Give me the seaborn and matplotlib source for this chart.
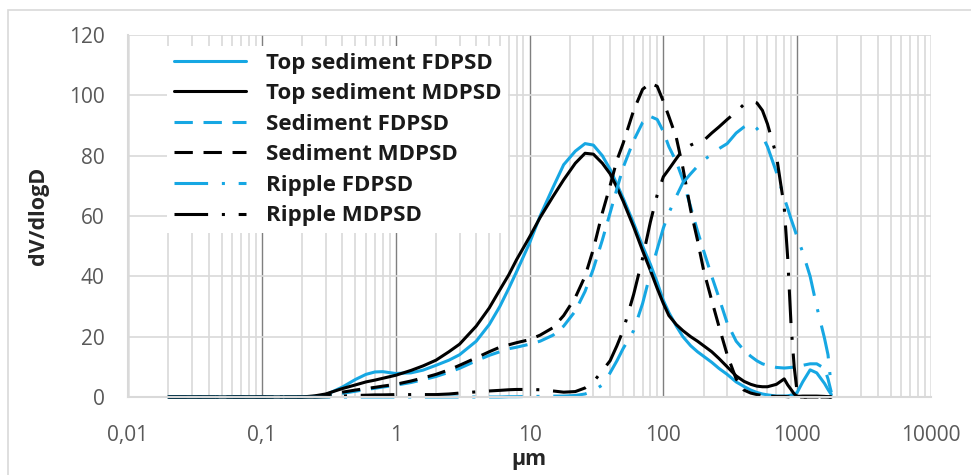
import numpy as np
import matplotlib
matplotlib.use("Agg")
import matplotlib.pyplot as plt
import seaborn as sns
from matplotlib.ticker import LogLocator, NullFormatter
from matplotlib.patches import Rectangle

# particle size grid (µm)
x_um = [0.02, 0.05, 0.1, 0.2, 0.25, 0.3, 0.4, 0.5, 0.6, 0.7,
        0.8, 1, 1.3, 1.6, 2, 2.5, 3, 4, 5, 6,
        7, 8, 10, 12, 15, 18, 22, 26, 30, 35,
        40, 45, 50, 60, 70, 80, 90, 100, 110, 125,
        140, 160, 180, 200, 230, 260, 300, 350, 400, 450,
        500, 550, 600, 700, 800, 850, 900, 950, 1000, 1100,
        1250, 1400, 1600, 1700, 1800]

top_fd = [0, 0, 0, 0, 0.2, 0.7, 3.3, 5.8, 7.5, 8.3,
          8.4, 7.8, 8.0, 8.9, 10.5, 12.2, 14, 18.5, 24, 30,
          36, 41.5, 51, 60, 69.5, 77, 81.5, 84, 83.5, 80,
          75.5, 70.5, 66, 57.6, 50, 44, 38, 32, 28, 23.5,
          20, 17, 15, 13.5, 11.5, 9.5, 7.5, 5, 3.5, 2.3,
          1.5, 1, 0.7, 0.3, 0.3, 0.4, 0.6, 0.9, 1.5, 5,
          9, 8, 4.5, 2.5, 0.8]

top_md = [0, 0, 0, 0, 0.4, 1.0, 2.8, 4, 5, 5.6,
          6.2, 7.2, 8.8, 10.3, 12.2, 15, 17.5, 23.5, 29.5, 35.5,
          40.5, 45.5, 53, 59.5, 66.5, 72, 77.5, 80.8, 80.5, 77.5,
          74, 69.5, 65, 56.4, 48.5, 42, 36, 31, 27, 24,
          22, 20, 18.5, 17, 15, 12.8, 10, 7, 5.2, 4.2,
          3.6, 3.4, 3.4, 4.2, 6, 4, 2.5, 1, 0.2, 0.3,
          0.3, 0.3, 0.2, 0.1, 0]

sed_fd = [0, 0, 0, 0, 0, 0.3, 1.2, 1.9, 2.5, 2.9,
          3.3, 3.9, 4.8, 5.7, 6.8, 8.2, 9.5, 12, 13.8, 15,
          16, 16.5, 17.5, 18.5, 20.5, 23.5, 28.5, 35, 42.5, 52,
          61, 69, 76, 85, 91, 93, 92, 88, 83, 78,
          72, 63, 55, 48.5, 40, 33, 24.5, 18.5, 15.5, 13.5,
          12, 11, 10.5, 9.8, 9.6, 9.7, 9.8, 9.9, 10, 10.5,
          11, 11, 9.5, 6, 1.5]

sed_md = [0, 0, 0, 0, 0.2, 0.6, 1.6, 2.3, 2.8, 3.2,
          3.6, 4.2, 5.3, 6.3, 7.5, 9, 10.5, 13, 15, 16.5,
          17.3, 18, 19, 20.5, 23, 27, 33, 40, 49, 61,
          70, 78.5, 84, 95, 102, 104, 103, 98, 93, 86,
          76, 62, 52, 42, 32, 23.5, 14, 6, 2.3, 1.3,
          0.8, 0.5, 0.3, 0.2, 0.2, 0.1, 0, 0, 0, 0,
          0, 0, 0, 0, 0]

rip_fd = [0, 0, 0, 0, 0, 0, 0, 0, 0, 0,
          0, 0, 0, 0, 0, 0, 0, 0, 0, 0,
          0.1, 0.1, 0.2, 0.2, 0.3, 0.3, 0.5, 1, 2, 4,
          8, 12, 16, 22, 31, 41, 49, 56, 61, 66.5,
          71, 74, 76.5, 78.5, 80.5, 82.3, 84, 87.5, 89.5, 90.7,
          89, 86.5, 83, 74.5, 66, 62.5, 59, 56, 53, 48,
          40, 30, 19.5, 14, 3]

rip_md = [0, 0, 0, 0, 0, 0.1, 0.3, 0.5, 0.6, 0.7,
          0.7, 0.8, 0.8, 0.8, 0.8, 1, 1.3, 1.7, 2, 2.2,
          2.4, 2.5, 2.5, 2.4, 2, 1.6, 1.8, 3, 5, 8.7,
          12, 17, 22, 34, 46, 58, 67, 73, 75.5, 79,
          82, 83.5, 84.5, 85, 87.5, 89.5, 92, 94.5, 97, 98,
          97.5, 95, 90.5, 80, 63, 46, 24, 10, 1.5, 0,
          0, 0, 0, 0, 0]

labels = ["Top sediment FDPSD", "Top sediment MDPSD", "Sediment FDPSD",
          "Sediment MDPSD", "Ripple FDPSD", "Ripple MDPSD"]
series = [top_fd, top_md, sed_fd, sed_md, rip_fd, rip_md]

blue = "#16a7e3"
black = "#000000"
colors = [blue, black, blue, black, blue, black]
solid = "-"
dashed = (0, (6, 3.5))
dashdot = (0, (11, 4.5, 1, 4.5))
styles = [solid, solid, dashed, dashed, dashdot, dashdot]

sns.set_style("white")
plt.rcParams["font.family"] = ["Open Sans", "DejaVu Sans"]

fig = plt.figure(figsize=(9.71, 4.75), dpi=100)
ax = fig.add_axes([128 / 971, 1 - 397 / 475, 803 / 971, 362 / 475])

for vals, lab, c, ls in zip(series, labels, colors, styles):
    sns.lineplot(x=x_um, y=vals, color=c, linewidth=2.2, linestyle=ls,
                 label=lab, errorbar=None, ax=ax, clip_on=False)

ax.set_xscale("log")
ax.set_xlim(0.01, 10000)
ax.set_ylim(0, 120)
ax.set_xticks([0.01, 0.1, 1, 10, 100, 1000, 10000],
              labels=["0,01", "0,1", "1", "10", "100", "1000", "10000"])
ax.xaxis.set_minor_locator(LogLocator(base=10, subs=np.arange(2, 10)))
ax.xaxis.set_minor_formatter(NullFormatter())
ax.set_yticks(range(0, 121, 20))
ax.tick_params(which="both", length=0, labelsize=15, colors="#595959")
ax.tick_params(axis="x", pad=20)
ax.tick_params(axis="y", pad=17)

ax.set_axisbelow(True)
ax.grid(True, which="major", axis="x", color="#7f7f7f", linewidth=1.0)
ax.grid(True, which="minor", axis="x", color="#d9d9d9", linewidth=1.2)
ax.grid(True, which="major", axis="y", color="#d9d9d9", linewidth=1.2)

for side in ["top", "right"]:
    ax.spines[side].set_visible(False)
for side in ["left", "bottom"]:
    ax.spines[side].set_color("#d9d9d9")
    ax.spines[side].set_linewidth(1.5)

ax.set_xlabel("")
ax.set_ylabel("")
fig.text(38 / 971, 1 - 216 / 475, "dV/dlogD", rotation=90, ha="center",
         va="center", fontsize=15.5, fontweight="bold", color="#262626")
fig.text(529 / 971, 1 - 460 / 475, "µm", ha="center", va="center",
         fontsize=15.5, fontweight="bold", color="#262626")

leg = ax.legend(loc="upper left", bbox_to_anchor=(0.049, 0.970),
                borderaxespad=0, borderpad=0.3, handlelength=3.25,
                handletextpad=0.9, labelspacing=0.43, frameon=True,
                fancybox=False, framealpha=1,
                prop={"size": 16, "weight": "bold"})
leg.get_frame().set_edgecolor("none")
leg.get_frame().set_facecolor("white")
for t in leg.get_texts():
    t.set_color("#1a1a1a")

fig.add_artist(Rectangle((8 / 971, -0.1), 1.2, 1 - 10 / 475 + 0.1,
                         transform=fig.transFigure, fill=False,
                         edgecolor="#d9d9d9", linewidth=1.2))

fig.savefig("out.png", dpi=100)
